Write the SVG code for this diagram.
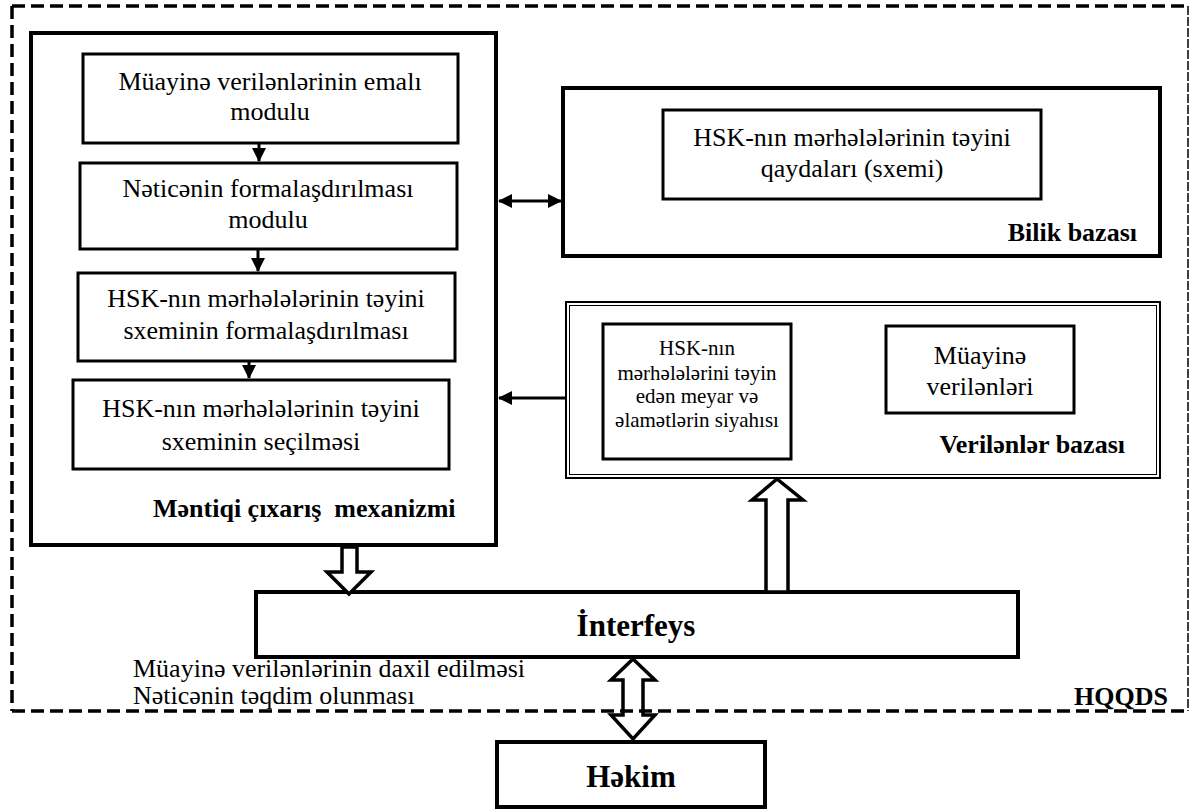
<svg xmlns="http://www.w3.org/2000/svg" width="1190" height="810" viewBox="0 0 1190 810">
<style>
  .t{font-family:"Liberation Serif","Times New Roman",serif;font-size:26px;fill:#000}
  .s{font-size:21px}
  .b{font-weight:bold}
  .big{font-size:31px}
  .box{fill:#fff;stroke:#000;stroke-width:3}
  .thick{fill:#fff;stroke:#000;stroke-width:4}
  .dash{fill:none;stroke:#000;stroke-width:3.5;stroke-dasharray:13 6}
  .dashthin{fill:none;stroke:#000;stroke-width:1.5;stroke-dasharray:9 2}
  .conn{fill:none;stroke:#000;stroke-width:3}
  .hollow{fill:#fff;stroke:#000;stroke-width:3.5;stroke-linejoin:miter}
</style>
<defs>
  <marker id="ah" markerUnits="userSpaceOnUse" markerWidth="14" markerHeight="14" refX="13" refY="7" orient="auto-start-reverse">
    <path d="M0,0 L14,7 L0,14 z" fill="#000"/>
  </marker>
</defs>
<rect width="1190" height="810" fill="#fff"/>

<g id="mexanizm">
  <rect class="thick" x="31" y="33" width="465" height="512"/>
  <text class="t b" x="153" y="517" xml:space="preserve">Məntiqi çıxarış  mexanizmi</text>
</g>
<g id="modul1">
  <rect class="box" x="83" y="54" width="375" height="89"/>
  <text class="t" x="270" y="90" text-anchor="middle">Müayinə verilənlərinin emalı</text>
  <text class="t" x="270" y="120" text-anchor="middle">modulu</text>
</g>
<g id="modul2">
  <rect class="box" x="80" y="163" width="377" height="86"/>
  <text class="t" x="268" y="197" text-anchor="middle">Nəticənin formalaşdırılması</text>
  <text class="t" x="268" y="228" text-anchor="middle">modulu</text>
</g>
<g id="modul3">
  <rect class="box" x="78" y="273" width="377" height="88"/>
  <text class="t" x="266" y="307" text-anchor="middle">HSK-nın mərhələlərinin təyini</text>
  <text class="t" x="266" y="339" text-anchor="middle">sxeminin formalaşdırılması</text>
</g>
<g id="modul4">
  <rect class="box" x="73" y="380" width="376" height="89"/>
  <text class="t" x="261" y="417" text-anchor="middle">HSK-nın mərhələlərinin təyini</text>
  <text class="t" x="261" y="450" text-anchor="middle">sxeminin seçilməsi</text>
</g>

<g id="bilik">
  <rect class="thick" x="563" y="88" width="597" height="168"/>
  <text class="t b" x="1137" y="241" text-anchor="end">Bilik bazası</text>
</g>
<g id="qaydalar">
  <rect class="box" x="663" y="110" width="378" height="89"/>
  <text class="t" x="852" y="146" text-anchor="middle">HSK-nın mərhələlərinin təyini</text>
  <text class="t" x="852" y="177" text-anchor="middle">qaydaları (sxemi)</text>
</g>

<g id="verilenler">
  <rect x="566" y="302" width="594" height="176" fill="#fff" stroke="#000" stroke-width="2"/>
  <rect x="569.5" y="305.5" width="587" height="169" fill="none" stroke="#000" stroke-width="1"/>
  <text class="t b" x="1125" y="453" text-anchor="end">Verilənlər bazası</text>
</g>
<g id="meyar">
  <rect class="box" x="603" y="324" width="188" height="135"/>
  <text class="t s" x="697" y="355" text-anchor="middle">HSK-nın</text>
  <text class="t s" x="697" y="380" text-anchor="middle">mərhələlərini təyin</text>
  <text class="t s" x="697" y="403" text-anchor="middle">edən meyar və</text>
  <text class="t s" x="697" y="427" text-anchor="middle">əlamətlərin siyahısı</text>
</g>
<g id="muayine">
  <rect class="box" x="886" y="326" width="188" height="87"/>
  <text class="t" x="980" y="364" text-anchor="middle">Müayinə</text>
  <text class="t" x="980" y="395" text-anchor="middle">verilənləri</text>
</g>

<g id="interfeys">
  <rect class="thick" x="256" y="592" width="762" height="65"/>
  <text class="t b big" x="636" y="636" text-anchor="middle">İnterfeys</text>
</g>
<g id="hekim">
  <rect class="thick" x="497" y="742" width="268" height="65"/>
  <text class="t b big" x="631" y="787" text-anchor="middle">Həkim</text>
</g>

<g id="connectors">
  <line class="conn" x1="259" y1="143" x2="259" y2="161" marker-end="url(#ah)"/>
  <line class="conn" x1="258" y1="249" x2="258" y2="271" marker-end="url(#ah)"/>
  <line class="conn" x1="249" y1="361" x2="249" y2="378" marker-end="url(#ah)"/>
  <line class="conn" x1="499" y1="201" x2="561" y2="201" marker-start="url(#ah)" marker-end="url(#ah)"/>
  <line class="conn" x1="566" y1="398" x2="499" y2="398" marker-end="url(#ah)"/>
  <polygon class="hollow" points="342,547 357,547 357,572 371,572 349,594 327,572 342,572"/>
  <polygon class="hollow" points="766,592 766,500 752,500 777,479 803,500 788,500 788,592"/>
  <polygon class="hollow" points="633,659 655,680 643,680 643,715 655,715 633,739 611,715 623,715 623,680 611,680"/>
</g>

<g id="hqqds">
  <line class="dash" x1="12" y1="6" x2="1188" y2="6"/>
  <line class="dash" x1="12" y1="6" x2="12" y2="711"/>
  <line class="dash" x1="12" y1="711" x2="1188" y2="711"/>
  <line class="dashthin" x1="1188" y1="6" x2="1188" y2="711"/>
  <text class="t b" x="1168" y="705" text-anchor="end">HQQDS</text>
</g>

<g id="labels">
  <text class="t" x="133" y="677">Müayinə verilənlərinin daxil edilməsi</text>
  <text class="t" x="133" y="704">Nəticənin təqdim olunması</text>
</g>
</svg>
